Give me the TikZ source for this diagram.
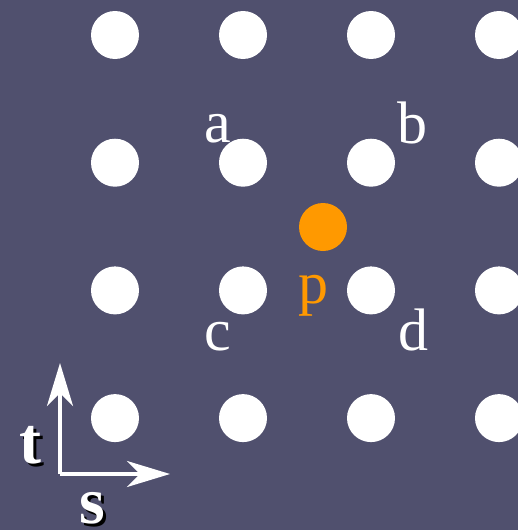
\documentclass[tikz,border=0pt]{standalone}
\usepackage{fontspec}
\setmainfont{Liberation Serif}
\usetikzlibrary{arrows.meta}
\definecolor{slate}{RGB}{80,80,110}
\definecolor{sampleorange}{RGB}{255,153,0}

\begin{document}
\begin{tikzpicture}[x=1pt, y=-1pt,
    texel/.style={circle, fill=white, minimum size=48pt, inner sep=0pt},
    sample/.style={circle, fill=sampleorange, minimum size=48pt, inner sep=0pt},
    corner/.style={anchor=base, text=white, inner sep=0pt, font=\fontsize{60}{60}\selectfont},
    axis/.style={-{Stealth[length=43pt, width=26pt, inset=13pt]}, white, line width=3.5pt},
    axlabel/.style={anchor=base, text=white, inner sep=0pt, font=\fontsize{66}{66}\selectfont\bfseries},
    axshadow/.style={axlabel, text=black}
]
\useasboundingbox (0,0) rectangle (518,530);
\clip (0,0) rectangle (518,530);
\fill[slate] (0,0) rectangle (518,530);

% texel grid
\foreach \i in {0,...,3}
  \foreach \j in {0,...,3}
    \node[texel] (dot\i\j) at ({115+128*\i},{35+127.7*\j}) {};

% sample point
\node[sample] (p) at (323,227) {};

% neighbour labels
\node[corner] (la) at (218,142) {a};
\node[corner] (lb) at (412,143) {b};
\node[corner] (lc) at (218,350) {c};
\node[corner] (ld) at (413,350) {d};
\node[corner, text=sampleorange] (lp) at (313,303) {p};

% s,t axes
\coordinate (o) at (60,474);
\coordinate (tend) at (60,363);
\coordinate (send) at (170,474);
\draw[axis] (o) -- (tend);
\draw[axis] (o) -- (send);

\node[axshadow] at (33,466) {t};
\node[axlabel] (lt) at (30,463) {t};
\node[axshadow] at (95,526) {s};
\node[axlabel] (ls) at (92,523) {s};
\end{tikzpicture}
\end{document}
